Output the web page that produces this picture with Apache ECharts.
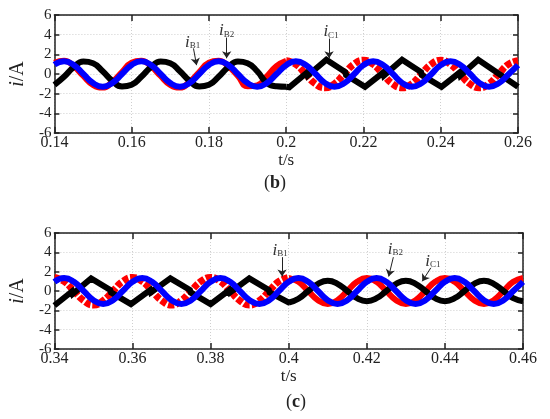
<!DOCTYPE html>
<html><head><meta charset="utf-8">
<script src="https://cdn.jsdelivr.net/npm/echarts@6/dist/echarts.min.js"></script>
<style>html,body{margin:0;padding:0;background:#fff}#c{width:550px;height:419px}</style>
</head><body><div id="c"></div>
<script>
// ---------- data, panel (b) ----------
const bTime = [0.14,0.1425,0.145,0.1475,0.15,0.1525,0.155,0.1575,0.16,0.1625,0.165,0.1675,0.17,0.1725,0.175,0.1775,0.18,0.1825,0.185,0.1875,0.19,0.1925,0.195,0.1975,0.2,0.2025,0.205,0.2075,0.21,0.2125,0.215,0.2175,0.22,0.2225,0.225,0.2275,0.23,0.2325,0.235,0.2375,0.24,0.2425,0.245,0.2475,0.25,0.2525,0.255,0.2575,0.26];
const bBlue = [0.95,1.3,0.92,0,-0.92,-1.3,-0.92,0, 0.92,1.3,0.92,0,-0.92,-1.3,-0.92,0, 0.92,1.3,0.92,0,-0.92,-1.3,-0.92,0, 0.9,1.3,0.95,0.05,-0.9,-1.3,-0.95,-0.05, 0.9,1.3,0.95,0.05,-0.9,-1.3,-0.95,-0.05, 0.9,1.3,0.95,0.05,-0.9,-1.3,-0.95,-0.05, 0.9];
const bRedA = [1.15,1.36,0.8,-0.2,-1.1,-1.38,-0.8,0.2, 1.15,1.36,0.8,-0.2,-1.1,-1.38,-0.8,0.2, 1.15,1.36,0.8,-0.2,-1.25,-1.15,-0.25,0.8,1.35];           // 0.14 .. 0.20
const bRedB = [1.35,0.99,0,-0.99,-1.4,-0.99,0,0.99, 1.4,0.99,0,-0.99,-1.4,-0.99,0,0.99, 1.4,0.99,0,-0.99,-1.4,-0.99,0,0.99, 1.35];                          // 0.20 .. 0.26
const bBlackA = [-1.1,-0.28,0.7,1.27,1.1,0.28,-0.7,-1.27, -1.1,-0.28,0.7,1.27,1.1,0.28,-0.7,-1.27, -1.1,-0.28,0.7,1.27,1.1,0.28,-0.9,-1.25,-1.3];        // 0.14 .. 0.20
const bBlackTime = [0.2,0.2008,0.2054,0.2056,0.2104,0.2153,0.2155,0.2204,0.2251,0.2253,0.23,0.2349,0.2351,0.2402,0.2449,0.2451,0.2497,0.26];
const bBlackB = [-1.3,-1.35,0.15,-0.15,1.45,0.2,-0.1,-1.3,0.15,-0.15,1.45,0.2,-0.1,-1.3,0.15,-0.15,1.45,-1.3];

// ---------- data, panel (c) ----------
const cTime = [0.34,0.3425,0.345,0.3475,0.35,0.3525,0.355,0.3575,0.36,0.3625,0.365,0.3675,0.37,0.3725,0.375,0.3775,0.38,0.3825,0.385,0.3875,0.39,0.3925,0.395,0.3975,0.4,0.4025,0.405,0.4075,0.41,0.4125,0.415,0.4175,0.42,0.4225,0.425,0.4275,0.43,0.4325,0.435,0.4375,0.44,0.4425,0.445,0.4475,0.45,0.4525,0.455,0.4575,0.46];
const cBlue = [0.95,1.35,0.95,0,-0.95,-1.35,-0.95,0, 0.95,1.35,0.95,0,-0.95,-1.35,-0.95,0, 0.95,1.35,0.95,0,-0.95,-1.35,-0.95,0, 0.95,1.35,0.95,0,-0.95,-1.35,-0.95,0, 0.95,1.35,0.95,0,-0.95,-1.35,-0.95,0, 0.95,1.35,0.95,0,-0.95,-1.35,-0.95,0, 0.95];
const cRedA = [1.4,0.99,0,-0.99,-1.45,-0.99,0,0.99, 1.4,0.99,0,-0.99,-1.45,-0.99,0,0.99, 1.4,0.99,0,-0.99,-1.45,-0.99,0,0.99, 1.4];                          // 0.34 .. 0.40
const cRedB = [1.35,0.95,0,-0.95,-1.35,-0.95,0,0.95, 1.35,0.95,0,-0.95,-1.35,-0.95,0,0.95, 1.35,0.95,0,-0.95,-1.35,-0.95,0,0.95, 1.35];                     // 0.40 .. 0.46
const cBlackTime = [0.34,0.3445,0.3447,0.3494,0.3543,0.3545,0.3596,0.3645,0.3647,0.3697,0.3747,0.3749,0.38,0.3848,0.385,0.3899,0.3949,0.3951,0.4003];
const cBlackA = [-1.5,-0.05,-0.3,1.3,0.1,-0.15,-1.35,0.1,-0.15,1.3,0.1,-0.15,-1.35,0.1,-0.15,1.3,0.1,-0.15,-1.25];
const cBlackB = [-1.2,-0.8,0,0.74,1.05,0.74,0,-0.74, -1.05,-0.74,0,0.74,1.05,0.74,0,-0.74, -1.05,-0.74,0,0.74,1.05,0.74,0,-0.74,-1.05];               // 0.40 .. 0.46

// ---------- annotations (data coordinates) ----------
const bNoteLabels = ['B1','B2','C1'];
const bNoteText = [[0.1758,3.2],[0.1846,4.4],[0.2116,4.3]];
const bNoteFrom = [[0.1760,2.6],[0.1846,3.7],[0.2111,3.6]];
const bNoteTo = [[0.1768,0.9],[0.1846,1.6],[0.2111,1.6]];
const cNoteLabels = ['B1','B2','C1'];
const cNoteText = [[0.3978,4.2],[0.4273,4.3],[0.4369,3.05]];
const cNoteFrom = [[0.3983,3.5],[0.4268,3.5],[0.4364,2.4]];
const cNoteTo = [[0.3983,1.5],[0.4256,1.5],[0.4342,1.0]];

const yTicks = [-6,-4,-2,0,2,4,6];

// ---------- build ----------
const zip = (t, v) => v.map((y, i) => [t[i], y]);
const SERIF = 'Liberation Serif';
const RED = '#ff0000', BLUE = '#0000ff', BLACK = '#000000';
const LW = 6;

function xAxes(gi, min, max) {
  return [{
    gridIndex: gi, type: 'value', min: min, max: max, interval: 0.02, position: 'bottom',
    name: 't/s', nameLocation: 'middle', nameGap: 15,
    nameTextStyle: {fontFamily: SERIF, fontSize: 17, color: '#222'},
    axisLine: {show: true, onZero: false, lineStyle: {color: '#222', width: 1.5}},
    axisTick: {show: true, inside: true, length: 6, lineStyle: {color: '#222', width: 1.5}},
    axisLabel: {fontFamily: SERIF, fontSize: 16, color: '#222', margin: 2},
    splitLine: {show: true, lineStyle: {color: '#cfcfcf', type: [1, 2], width: 1}}
  }, {
    gridIndex: gi, type: 'value', min: min, max: max, interval: 0.02, position: 'top',
    axisLine: {show: true, onZero: false, lineStyle: {color: '#222', width: 1.5}},
    axisTick: {show: true, inside: true, length: 6, lineStyle: {color: '#222', width: 1.5}},
    axisLabel: {show: false}, splitLine: {show: false}
  }];
}
function yAxes(gi) {
  return [{
    gridIndex: gi, type: 'value', min: yTicks[0], max: yTicks[yTicks.length - 1], interval: 2, position: 'left',
    name: '{a|i}{b|/A}', nameLocation: 'middle', nameGap: 13, nameRotate: 90,
    nameTextStyle: {rich: {a: {fontFamily: SERIF, fontStyle: 'italic', fontSize: 20, color: '#222'}, b: {fontFamily: SERIF, fontSize: 20, color: '#222'}}},
    axisLine: {show: true, onZero: false, lineStyle: {color: '#222', width: 1.5}},
    axisTick: {show: true, inside: true, length: 5, lineStyle: {color: '#222', width: 1.5}},
    axisLabel: {fontFamily: SERIF, fontSize: 15, color: '#222', margin: 3},
    splitLine: {show: true, lineStyle: {color: '#cfcfcf', type: [1, 2], width: 1}}
  }, {
    gridIndex: gi, type: 'value', min: yTicks[0], max: yTicks[yTicks.length - 1], interval: 2, position: 'right',
    axisLine: {show: true, onZero: false, lineStyle: {color: '#222', width: 1.5}},
    axisTick: {show: true, inside: true, length: 5, lineStyle: {color: '#222', width: 1.5}},
    axisLabel: {show: false}, splitLine: {show: false}
  }];
}
function line(xi, yi, data, color, z, smooth, dashed) {
  return {
    type: 'line', xAxisIndex: xi, yAxisIndex: yi, data: data, showSymbol: false, symbol: 'none',
    smooth: smooth, z: z, animation: false,
    lineStyle: {color: color, width: dashed ? 7 : LW, type: dashed ? [6, 2] : 'solid', cap: 'butt', join: 'miter'}
  };
}
function notes(xi, yi, labels, txt, from, to) {
  return {
    type: 'line', xAxisIndex: xi, yAxisIndex: yi, data: [], z: 10, animation: false,
    markLine: {
      silent: true, symbol: ['none', 'arrow'], symbolSize: 8, animation: false, precision: 4,
      lineStyle: {color: '#222', width: 1, type: 'solid'}, label: {show: false},
      emphasis: {disabled: true},
      data: from.map((f, i) => [{coord: f, symbol: 'none'}, {coord: to[i], symbol: 'arrow', symbolSize: 7}])
    },
    markPoint: {
      silent: true, animation: false, symbol: 'circle', symbolSize: 1, itemStyle: {color: 'rgba(0,0,0,0)'},
      data: txt.map((p, i) => ({
        coord: p,
        label: {
          show: true, position: 'inside', formatter: '{i|i}{s|' + labels[i] + '}',
          rich: {
            i: {fontFamily: SERIF, fontStyle: 'italic', fontSize: 17, color: '#333'},
            s: {fontFamily: SERIF, fontSize: 9, color: '#333', padding: [7, 0, 0, 0]}
          }
        }
      }))
    }
  };
}

const option = {
  backgroundColor: '#fff',
  animation: false,
  grid: [
    {left: 53, right: 32, top: 15, height: 118},
    {left: 48, right: 27, top: 233, height: 116}
  ],
  xAxis: [...xAxes(0, 0.14, 0.26), ...xAxes(1, 0.34, 0.46)],
  yAxis: [...yAxes(0), ...yAxes(1)],
  series: [
    line(0, 0, zip(bTime.slice(0, 25), bRedA), RED, 2, true, false),
    line(0, 0, zip(bTime.slice(24), bRedB), RED, 2, true, true),
    line(0, 0, zip(bTime.slice(0, 25), bBlackA), BLACK, 3, true, false),
    line(0, 0, zip(bBlackTime, bBlackB), BLACK, 3, false, false),
    line(0, 0, zip(bTime, bBlue), BLUE, 4, true, false),
    notes(0, 0, bNoteLabels, bNoteText, bNoteFrom, bNoteTo),
    line(2, 2, zip(cTime.slice(0, 25), cRedA), RED, 2, true, true),
    line(2, 2, zip(cTime.slice(24), cRedB), RED, 2, true, false),
    line(2, 2, zip(cBlackTime, cBlackA), BLACK, 3, false, false),
    line(2, 2, zip(cTime.slice(24), cBlackB), BLACK, 3, true, false),
    line(2, 2, zip(cTime, cBlue), BLUE, 4, true, false),
    notes(2, 2, cNoteLabels, cNoteText, cNoteFrom, cNoteTo)
  ],
  graphic: [
    {type: 'text', left: 264, top: 174, style: {text: '({b|b})', fontFamily: SERIF, fontSize: 18, fill: '#222',
      rich: {b: {fontFamily: SERIF, fontSize: 18, fontWeight: 'bold', fill: '#222'}}}},
    {type: 'text', left: 286, top: 393, style: {text: '({b|c})', fontFamily: SERIF, fontSize: 18, fill: '#222',
      rich: {b: {fontFamily: SERIF, fontSize: 18, fontWeight: 'bold', fill: '#222'}}}}
  ]
};
const chart = echarts.init(document.getElementById('c'), null, {renderer: 'canvas'});
chart.setOption(option);
</script></body></html>
